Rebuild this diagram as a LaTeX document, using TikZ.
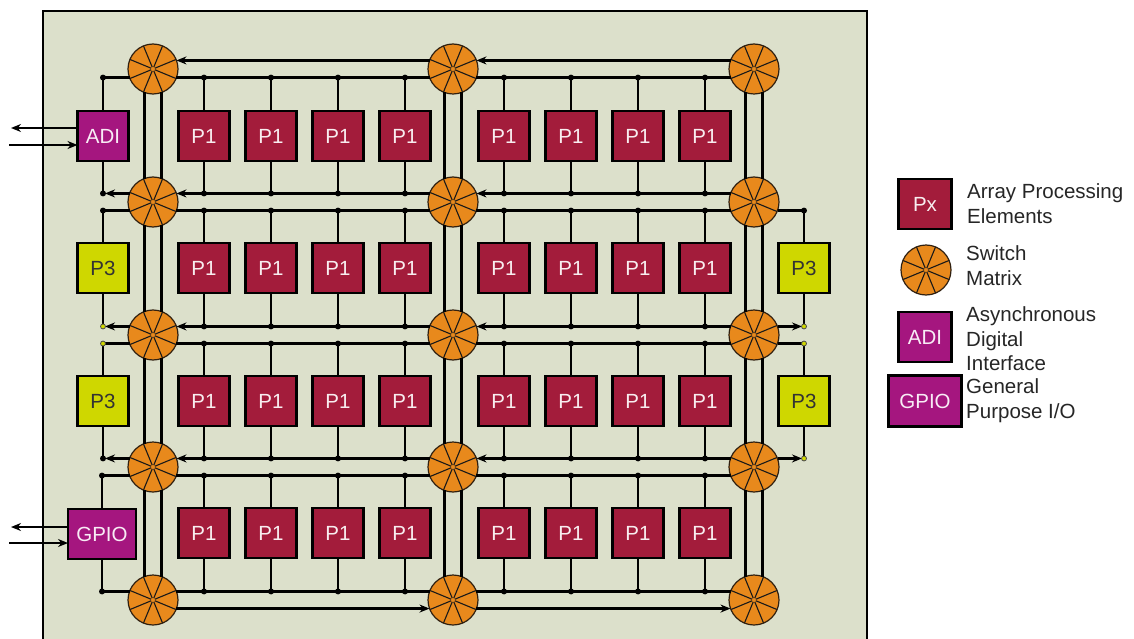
\documentclass[tikz,border=0pt]{standalone}
\usepackage{fontspec}
\setmainfont{Liberation Sans}
\usetikzlibrary{arrows.meta}
\definecolor{bgc}{HTML}{DCE0CB}
\definecolor{ponec}{HTML}{A31C3B}
\definecolor{adic}{HTML}{A5167F}
\definecolor{pthreec}{HTML}{CFD700}
\definecolor{swc}{HTML}{E8891C}
\begin{document}
\begin{tikzpicture}[x=1pt,y=-1pt,
  boxbase/.style={draw=black, line width=2.8pt, minimum width=51pt, minimum height=50pt,
    inner sep=0pt, outer sep=0pt, font=\fontsize{20.5}{24}\selectfont},
  ponebox/.style={boxbase, fill=ponec, text=white!92!ponec},
  iobox/.style={boxbase, fill=adic, text=white!92!adic},
  pthreebox/.style={boxbase, fill=pthreec, text=black!80},
  sw/.style={circle, draw=black!75!brown, line width=1.2pt, fill=swc, minimum size=50pt,
    inner sep=0pt, outer sep=0pt,
    path picture={
      \foreach \a in {22.5,67.5,...,337.5}
        \draw[line width=1.1pt, black!90] (path picture bounding box.center) -- ++(\a:30pt);
      \fill (path picture bounding box.center) circle (2pt);}},
  ln/.style={line width=2.5pt, draw=black},
  arr/.style={ln, -{Stealth[length=10pt,width=8pt]}},
  lgtext/.style={anchor=west, align=left, inner sep=0pt, text=black!85,
    font=\fontsize{20.5}{24.5}\selectfont},
  ydot/.style={fill=pthreec, draw=black!70, line width=0.8pt}
]
\useasboundingbox (0,0) rectangle (1134,639);
\fill[white] (0,0) rectangle (1134,639);
\begin{scope}
\clip (0,0) rectangle (1134,639);
\draw[line width=2.4pt, fill=bgc] (43,11) rectangle (867,680);

% switches
\foreach \r/\y in {1/69,2/202,3/335,4/467,5/600}
  \foreach \c/\x in {1/153,2/453,3/754}
    \node[sw] (s\r\c) at (\x,\y) {};

% P1 boxes
\foreach \i/\y in {1/136,2/268,3/401,4/533}
  \foreach \j/\x in {1/204,2/271,3/338,4/405,5/504,6/571,7/638,8/705}
    \node[ponebox] (p\i\j) at (\x,\y) {P1};

% IO and P3 boxes
\node[iobox] (adi) at (103,136) {ADI};
\node[iobox, minimum width=68pt] (gpio) at (102,534) {GPIO};
\node[pthreebox] (p3l2) at (103,268) {P3};
\node[pthreebox] (p3l3) at (103,401) {P3};
\node[pthreebox] (p3r2) at (804,268) {P3};
\node[pthreebox] (p3r3) at (804,401) {P3};

% column links between switches
\foreach \c in {1,2,3}
  \foreach \r/\rr in {1/2,2/3,3/4,4/5} {
    \draw[ln] (s\r\c.250) -- (s\rr\c.110);
    \draw[ln] (s\r\c.290) -- (s\rr\c.70);
  }

% P1 taps
\foreach \i/\ii in {1/2,2/3,3/4,4/5}
  \foreach \j in {1,...,8} {
    \draw[ln] (p\i\j.north) -- (p\i\j.north |- s\i1.-20);
    \fill (p\i\j.north |- s\i1.-20) circle (3pt);
    \draw[ln] (p\i\j.south) -- (p\i\j.south |- s\ii1.20);
    \fill (p\i\j.south |- s\ii1.20) circle (3pt);
  }

% end coordinates
\coordinate (d1l) at (adi.north |- s11.200);
\coordinate (d2u) at (adi.south |- s21.160);
\coordinate (d2l) at (p3l2.north |- s21.200);
\coordinate (d2r) at (p3r2.north |- s23.-20);
\coordinate (d3ul) at (p3l2.south |- s31.160);
\coordinate (d3ur) at (p3r2.south |- s33.20);
\coordinate (d3ll) at (p3l3.north |- s31.200);
\coordinate (d3lr) at (p3r3.north |- s33.-20);
\coordinate (d4ul) at (p3l3.south |- s41.160);
\coordinate (d4ur) at (p3r3.south |- s43.20);
\coordinate (d4ll) at (gpio.north |- s41.200);
\coordinate (d5ul) at (gpio.south |- s51.160);

% row 1
\draw[arr] (s13.160) -- (s12.20);
\draw[arr] (s12.160) -- (s11.20);
\draw[ln] (d1l) -- (s11.200) (s11.-20) -- (s12.200) (s12.-20) -- (s13.200);
\draw[ln] (adi.north) -- (d1l);
% row 2
\draw[arr] (s23.160) -- (s22.20);
\draw[arr] (s22.160) -- (s21.20);
\draw[arr, shorten >=2pt] (s21.160) -- (d2u);
\draw[ln] (adi.south) -- (d2u);
\draw[ln] (d2l) -- (s21.200) (s21.-20) -- (s22.200) (s22.-20) -- (s23.200) (s23.-20) -- (d2r);
\draw[ln] (p3l2.north) -- (d2l);
\draw[ln] (p3r2.north) -- (d2r);
% row 3
\draw[arr] (s33.160) -- (s32.20);
\draw[arr] (s32.160) -- (s31.20);
\draw[arr, shorten >=2pt] (s31.160) -- (d3ul);
\draw[arr, shorten >=2pt] (s33.20) -- (d3ur);
\draw[ln] (d3ll) -- (s31.200) (s31.-20) -- (s32.200) (s32.-20) -- (s33.200) (s33.-20) -- (d3lr);
\draw[ln] (p3l2.south) -- (d3ul);
\draw[ln] (p3r2.south) -- (d3ur);
\draw[ln] (p3l3.north) -- (d3ll);
\draw[ln] (p3r3.north) -- (d3lr);
% row 4
\draw[arr] (s43.160) -- (s42.20);
\draw[arr] (s42.160) -- (s41.20);
\draw[arr, shorten >=2pt] (s41.160) -- (d4ul);
\draw[arr, shorten >=2pt] (s43.20) -- (d4ur);
\draw[ln] (d4ll) -- (s41.200) (s41.-20) -- (s42.200) (s42.-20) -- (s43.200);
\draw[ln] (p3l3.south) -- (d4ul);
\draw[ln] (p3r3.south) -- (d4ur);
\draw[ln] (gpio.north) -- (d4ll);
% row 5
\draw[ln] (d5ul) -- (s51.160) (s51.20) -- (s52.160) (s52.20) -- (s53.160);
\draw[arr] (s51.-20) -- (s52.200);
\draw[arr] (s52.-20) -- (s53.200);
\draw[ln] (gpio.south) -- (d5ul);

% dots
\foreach \d in {d1l,d2u,d2l,d2r,d4ul,d4ll,d5ul}
  \fill (\d) circle (3pt);
\foreach \d in {d3ul,d3ur,d3ll,d3lr,d4ur}
  \filldraw[ydot] (\d) circle (2.5pt);

% external IO arrows
\coordinate (adio) at (11,128);
\coordinate (adii) at (9,145);
\coordinate (gpioo) at (11,527);
\coordinate (gpioi) at (9,543);
\draw[arr] ([yshift=8pt]adi.west) -- (adio);
\draw[arr] (adii) -- ([yshift=-9pt]adi.west);
\draw[arr] ([yshift=7pt]gpio.west) -- (gpioo);
\draw[arr] (gpioi) -- ([yshift=-9pt]gpio.west);

% legend
\node[ponebox, minimum width=53pt] (lgp) at (925,204) {Px};
\node[sw] (lgs) at (926,270) {};
\node[iobox, minimum width=53pt] (lga) at (925,337) {ADI};
\node[iobox, minimum width=73pt, minimum height=51pt] (lgg) at (925,401) {GPIO};
\node[lgtext] (lt1) at (967,203.5) {Array Processing\\Elements};
\node[lgtext] (lt2) at (966,265.5) {Switch\\Matrix};
\node[lgtext] (lt3) at (966,339) {Asynchronous\\Digital\\Interface};
\node[lgtext] (lt4) at (966,400.5) {General\\Purpose I/O};
\end{scope}
\end{tikzpicture}
\end{document}
